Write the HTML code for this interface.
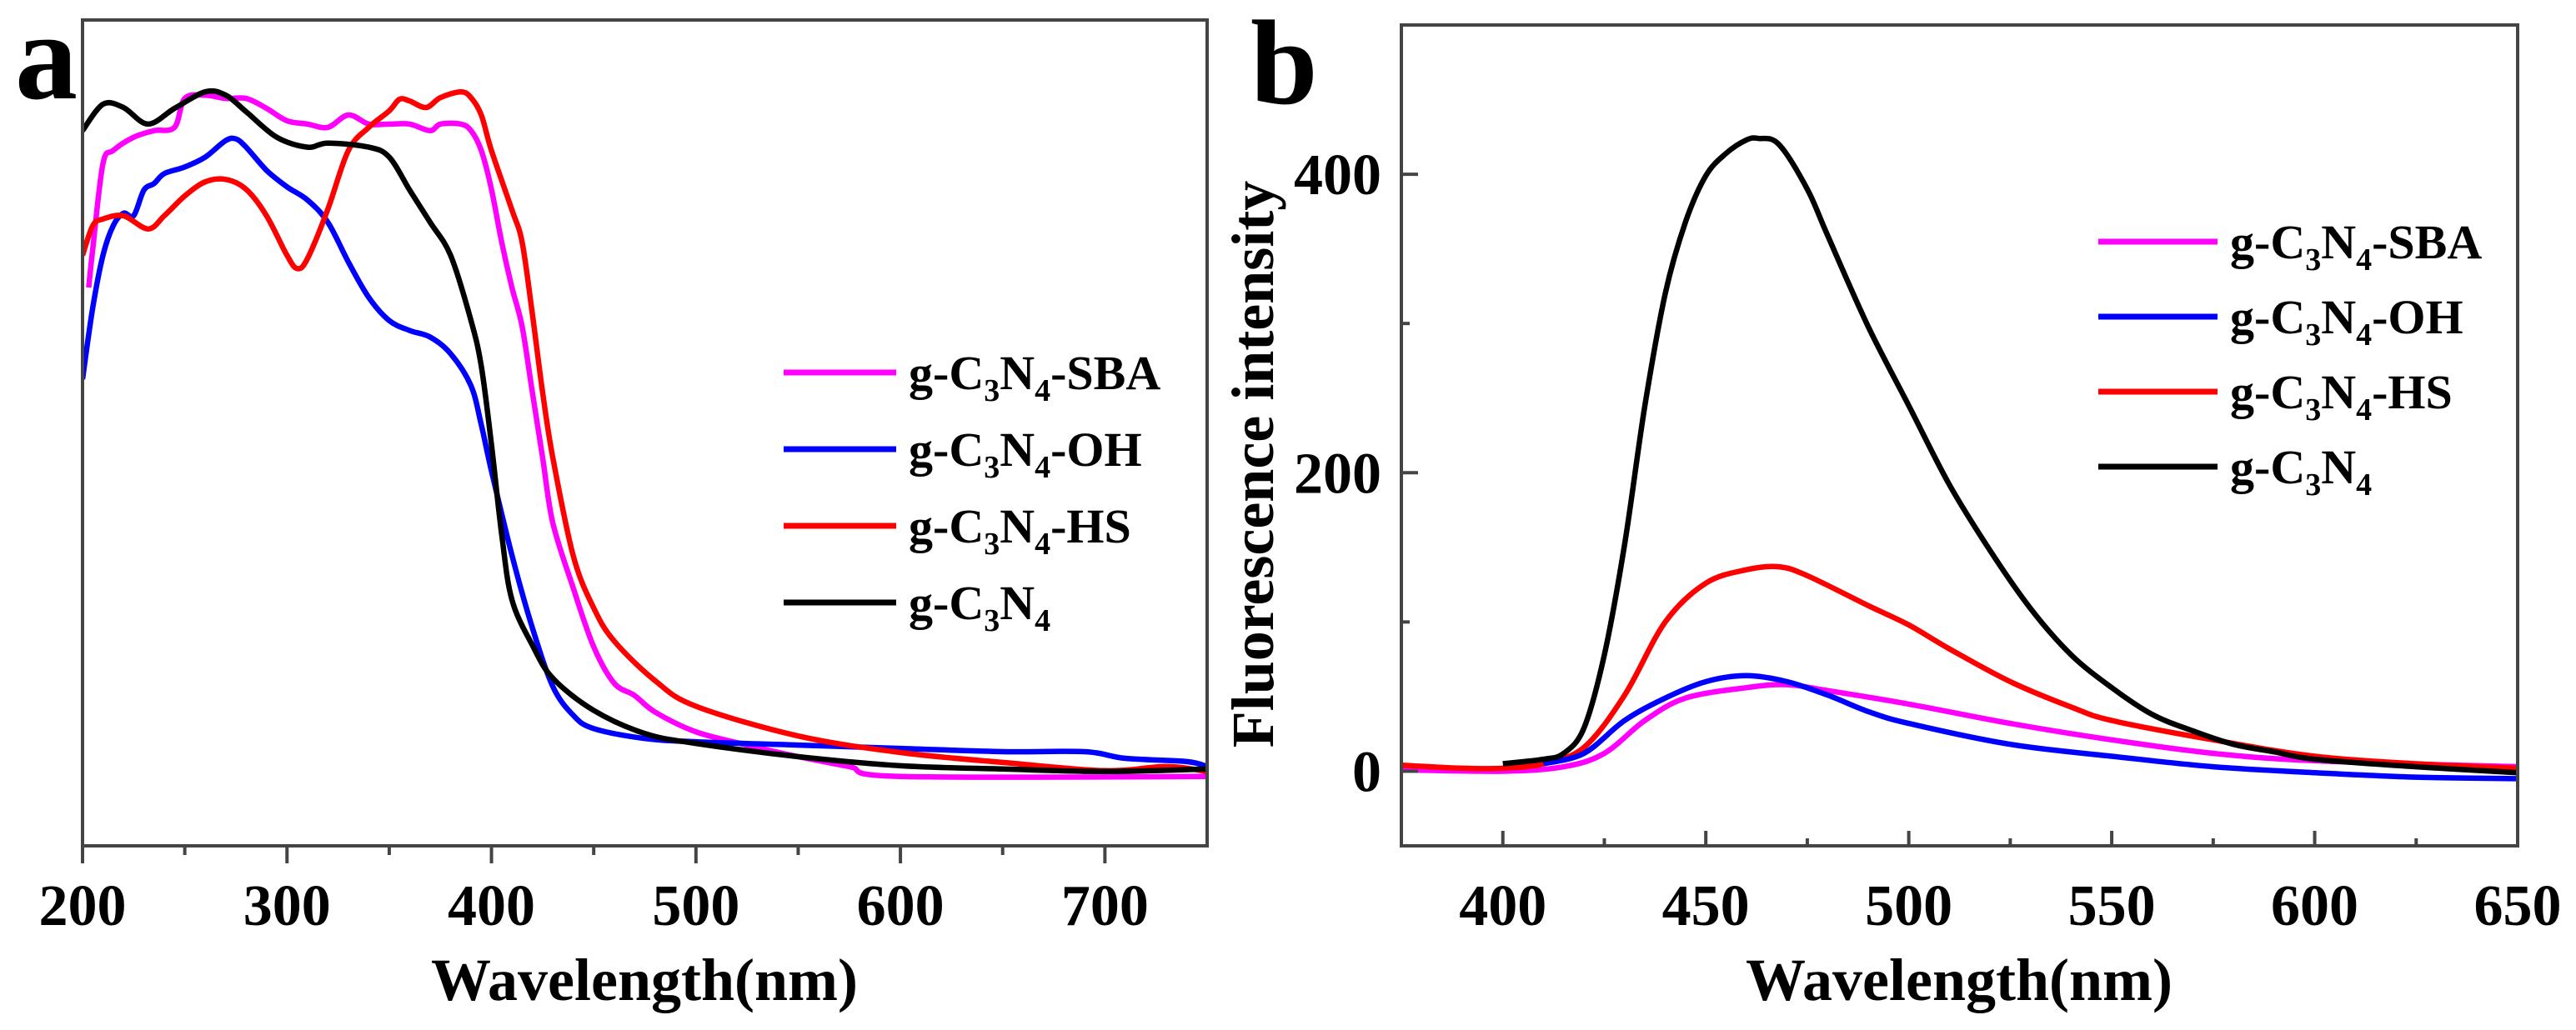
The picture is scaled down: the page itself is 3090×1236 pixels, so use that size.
<!DOCTYPE html>
<html><head><meta charset="utf-8"><style>
html,body{margin:0;padding:0;background:#fff}
svg{display:block;font-family:"Liberation Serif",serif;font-weight:bold}
</style></head><body>
<svg id="fig" width="3090" height="1236" viewBox="0 0 3090 1236" xmlns="http://www.w3.org/2000/svg">
<g id="pa"></g>
<g id="pb"></g>
</svg>
<script>
// ---- Panel a data (wavelength nm, normalized absorbance 0..1) ----
const aBlackX=[200,210,220,232,245,260,270,280,295,310,320,340,350,360,370,380,390,395,400,405,410,420,430,450,475,500,550,600,650,700,750];
const aBlackY=[0.866,0.898,0.894,0.874,0.893,0.913,0.909,0.889,0.858,0.846,0.851,0.846,0.834,0.794,0.755,0.715,0.636,0.581,0.486,0.377,0.298,0.243,0.203,0.164,0.136,0.124,0.108,0.097,0.093,0.090,0.093];
const aPinkX=[203,205,210,215,225,235,245,250,260,270,280,290,300,310,320,330,340,350,360,370,375,385,390,395,400,405,410,415,420,425,430,440,450,460,470,480,500,525,550,575,600,750];
const aPinkY=[0.676,0.723,0.826,0.842,0.858,0.866,0.870,0.905,0.909,0.905,0.905,0.893,0.878,0.874,0.870,0.885,0.874,0.874,0.874,0.866,0.874,0.874,0.866,0.842,0.795,0.731,0.676,0.629,0.549,0.470,0.391,0.312,0.241,0.197,0.182,0.162,0.138,0.122,0.108,0.096,0.084,0.084];
const aBlueX=[200,205,210,215,220,225,230,235,240,250,260,270,275,280,290,300,310,320,330,340,350,360,370,380,390,395,400,410,420,430,440,450,475,500,550,600,650,690,710,740,750];
const aBlueY=[0.565,0.652,0.715,0.751,0.766,0.763,0.794,0.802,0.814,0.822,0.834,0.854,0.856,0.846,0.818,0.798,0.782,0.755,0.707,0.664,0.636,0.624,0.616,0.596,0.557,0.510,0.454,0.352,0.264,0.193,0.158,0.142,0.130,0.126,0.122,0.118,0.114,0.114,0.106,0.102,0.096];
const aRedX=[200,205,210,220,232,240,250,260,270,280,290,300,305,310,320,330,340,350,355,360,368,375,385,390,395,400,410,415,420,425,430,440,450,460,480,500,550,600,650,700,730,750];
const aRedY=[0.715,0.751,0.759,0.763,0.747,0.763,0.787,0.804,0.807,0.795,0.763,0.715,0.699,0.711,0.771,0.842,0.870,0.890,0.904,0.902,0.894,0.906,0.913,0.906,0.885,0.842,0.770,0.731,0.644,0.549,0.470,0.351,0.288,0.248,0.200,0.169,0.133,0.113,0.101,0.091,0.096,0.090];
const aTicks=[200,300,400,500,600,700];
const aMinor=[250,350,450,550,650];
// ---- Panel b data (wavelength nm, intensity) ----
const bBlackX=[400,410,415,420,425,430,435,440,445,450,455,460,463,468,475,480,490,500,510,520,530,540,550,560,570,580,590,600,625,650];
const bBlackY=[5,8,12,29,78,152,245,320,368,399,414,423,424,420,390,359,298,245,192,148,109,78,56,38,27,18,13,8,3,-1];
const bRedX=[375,390,400,410,420,430,440,450,460,468,475,490,500,510,525,540,550,575,600,625,650];
const bRedY=[4,2,2,5,16,51,100,126,135,137,131,111,98,82,60,43,34,21,10,5,2];
const bBlueX=[410,420,430,440,450,460,470,480,490,500,525,550,575,600,625,650];
const bBlueY=[5,12,34,49,60,64,60,51,40,32,18,10,3,-1,-4,-5];
const bPinkX=[375,400,415,425,435,445,460,470,480,500,525,550,575,600,650];
const bPinkY=[1,0,3,12,34,49,56,58,54,45,32,21,12,7,3];
const bTicksX=[400,450,500,550,600,650];
const bMinorX=[425,475,525,575,625];
const bTicksY=[0,200,400];
const bMinorY=[100,300];
const legendLabels=[["-SBA","#ff00ff"],["-OH","#0000ff"],["-HS","#ff0000"],["","#000000"]];

const NS="http://www.w3.org/2000/svg";
function mk(parent,tag,attrs){const e=document.createElementNS(NS,tag);for(const k in attrs)e.setAttribute(k,attrs[k]);parent.appendChild(e);return e;}
function linePath(xs,ys,sx,sy){
  const P=xs.map((x,i)=>[sx(x),sy(ys[i])]);
  let d="M"+P[0][0].toFixed(1)+","+P[0][1].toFixed(1);
  for(let i=0;i<P.length-1;i++){
    const p0=P[i-1]||P[i],p1=P[i],p2=P[i+1],p3=P[i+2]||P[i+1];
    const c1=[p1[0]+(p2[0]-p0[0])/6,p1[1]+(p2[1]-p0[1])/6];
    const c2=[p2[0]-(p3[0]-p1[0])/6,p2[1]-(p3[1]-p1[1])/6];
    d+="C"+c1[0].toFixed(1)+","+c1[1].toFixed(1)+" "+c2[0].toFixed(1)+","+c2[1].toFixed(1)+" "+p2[0].toFixed(1)+","+p2[1].toFixed(1);
  }
  return d;
}
function legend(g,x1,x2,tx,rows){
  rows.forEach((r,i)=>{
    const lg=mk(g,"g",{});
    
    
    mk(lg,"line",{x1:x1,x2:x2,y1:r,y2:r,stroke:legendLabels[i][1],"stroke-width":7});
    const t=mk(lg,"text",{x:tx,y:r+20,"font-size":58});
    t.innerHTML='g-C<tspan font-size="38" dy="14">3</tspan><tspan dy="-14">N</tspan><tspan font-size="38" dy="14">4</tspan><tspan dy="-14">'+legendLabels[i][0]+'</tspan>';
  });
}

// ---------- Panel A ----------
(function(){
const g=document.getElementById("pa");
const L=99,R=1448,T=24,B=1015;
const sx=x=>L+(x-200)/550*(R-L);
const sy=v=>B-v*(B-T);
const series=[[aPinkX,aPinkY,"#ff00ff","series-g-c3n4-sba"],[aBlueX,aBlueY,"#0000ff","series-g-c3n4-oh"],[aRedX,aRedY,"#ff0000","series-g-c3n4-hs"],[aBlackX,aBlackY,"#000000","series-g-c3n4"]];
const clip=mk(g,"clipPath",{id:"ca"});mk(clip,"rect",{x:L,y:T,width:R-L,height:B-T});
series.forEach(s=>{
  const p=mk(g,"path",{d:linePath(s[0],s[1],sx,sy),fill:"none",stroke:s[2],"stroke-width":6.5,"stroke-linejoin":"round","clip-path":"url(#ca)"});
  
  
});
const fr=mk(g,"rect",{x:L,y:T,width:R-L,height:B-T,fill:"none",stroke:"#444","stroke-width":4});


aTicks.forEach(v=>{
  mk(g,"line",{x1:sx(v),x2:sx(v),y1:B,y2:B+21,stroke:"#444","stroke-width":4});
  const t=mk(g,"text",{x:sx(v),y:1110,"font-size":70,"text-anchor":"middle"});t.textContent=v;
  
  
});
aMinor.forEach(v=>mk(g,"line",{x1:sx(v),x2:sx(v),y1:B,y2:B+11,stroke:"#444","stroke-width":4}));
const xl=mk(g,"text",{x:773,y:1200,"font-size":72,"text-anchor":"middle"});xl.textContent="Wavelength(nm)";


const pl=mk(g,"text",{x:18,y:118,"font-size":150});pl.textContent="a";


const lg=mk(g,"g",{});


legend(lg,940,1075,1090,[447,539,631,723]);
})();

// ---------- Panel B ----------
(function(){
const g=document.getElementById("pb");
const L=1681,R=3020,T=30,B=1015;
const sx=x=>L+(x-375)/275*(R-L);
const sy=v=>B-(v+50)/550*(B-T);
const series=[[bPinkX,bPinkY,"#ff00ff","series-g-c3n4-sba"],[bRedX,bRedY,"#ff0000","series-g-c3n4-hs"],[bBlueX,bBlueY,"#0000ff","series-g-c3n4-oh"],[bBlackX,bBlackY,"#000000","series-g-c3n4"]];
const clip=mk(g,"clipPath",{id:"cb"});mk(clip,"rect",{x:L,y:T,width:R-L,height:B-T});
series.forEach(s=>{
  const p=mk(g,"path",{d:linePath(s[0],s[1],sx,sy),fill:"none",stroke:s[2],"stroke-width":6.5,"stroke-linejoin":"round","clip-path":"url(#cb)"});
  
  
});
const fr=mk(g,"rect",{x:L,y:T,width:R-L,height:B-T,fill:"none",stroke:"#444","stroke-width":4});


bTicksX.forEach(v=>{
  mk(g,"line",{x1:sx(v),x2:sx(v),y1:B,y2:B-18,stroke:"#444","stroke-width":4});
  const t=mk(g,"text",{x:sx(v),y:1110,"font-size":70,"text-anchor":"middle"});t.textContent=v;
  
  
});
bMinorX.forEach(v=>mk(g,"line",{x1:sx(v),x2:sx(v),y1:B,y2:B-9,stroke:"#444","stroke-width":4}));
bTicksY.forEach(v=>{
  mk(g,"line",{x1:L,x2:L+20,y1:sy(v),y2:sy(v),stroke:"#444","stroke-width":4});
  const t=mk(g,"text",{x:1657,y:sy(v)+24,"font-size":70,"text-anchor":"end"});t.textContent=v;
  
  
});
bMinorY.forEach(v=>mk(g,"line",{x1:L,x2:L+10,y1:sy(v),y2:sy(v),stroke:"#444","stroke-width":4}));
const xl=mk(g,"text",{x:2350,y:1200,"font-size":72,"text-anchor":"middle"});xl.textContent="Wavelength(nm)";


const yl=mk(g,"text",{x:0,y:0,"font-size":72,"text-anchor":"middle",transform:"translate(1527,557) rotate(-90)"});yl.textContent="Fluorescence intensity";


const pl=mk(g,"text",{x:1500,y:124,"font-size":145});pl.textContent="b";


const lg=mk(g,"g",{});


legend(lg,2517,2660,2675,[290,380,470,560]);
})();
</script>
</body></html>
